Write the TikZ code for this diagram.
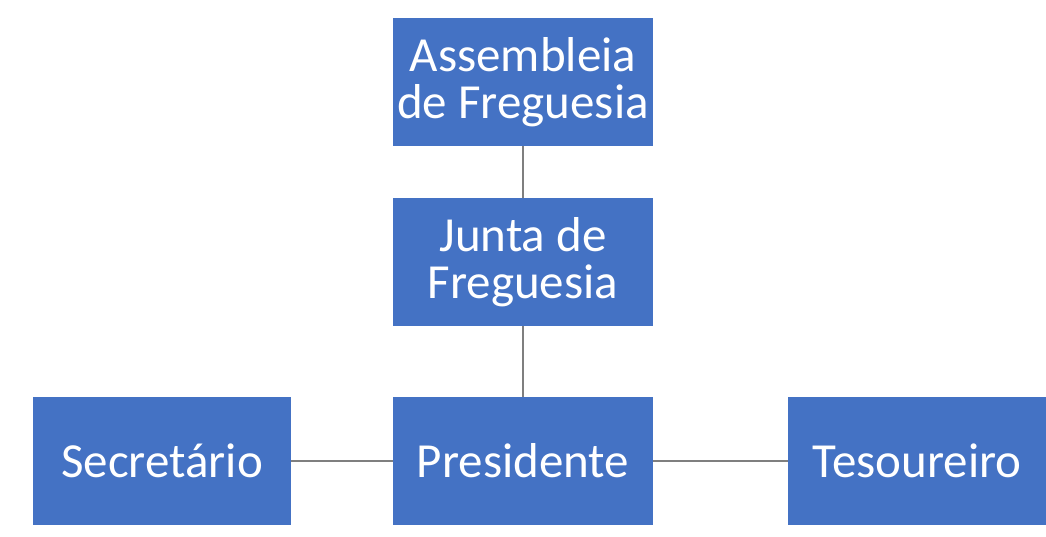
\documentclass[tikz,border=0pt]{standalone}
\usepackage{fontspec}
\setmainfont{Carlito}
\definecolor{boxblue}{HTML}{4472C4}
\definecolor{linegray}{HTML}{7F7F7F}
\tikzset{
  orgbox/.style={fill=boxblue, draw=none, text=white, minimum width=260pt, minimum height=128pt, inner sep=0pt, align=center, font=\fontsize{49}{47}\selectfont},
  link/.style={draw=linegray, line width=1.5pt}
}
\begin{document}
\begin{tikzpicture}[x=1pt,y=-1pt]
\useasboundingbox (0,0) rectangle (1046,536);
\node[orgbox] (ass) at (523,82) {Assembleia\\de Freguesia};
\node[orgbox] (jun) at (523,262) {Junta de\\Freguesia};
\node[orgbox] (pre) at (523,461) {Presidente};
\node[orgbox, minimum width=258pt] (sec) at (162,461) {Secretário};
\node[orgbox, minimum width=258pt] (tes) at (917,461) {Tesoureiro};
\draw[link] (ass) -- (jun);
\draw[link] (jun) -- (pre);
\draw[link] (sec) -- (pre);
\draw[link] (pre) -- (tes);
\end{tikzpicture}
\end{document}
